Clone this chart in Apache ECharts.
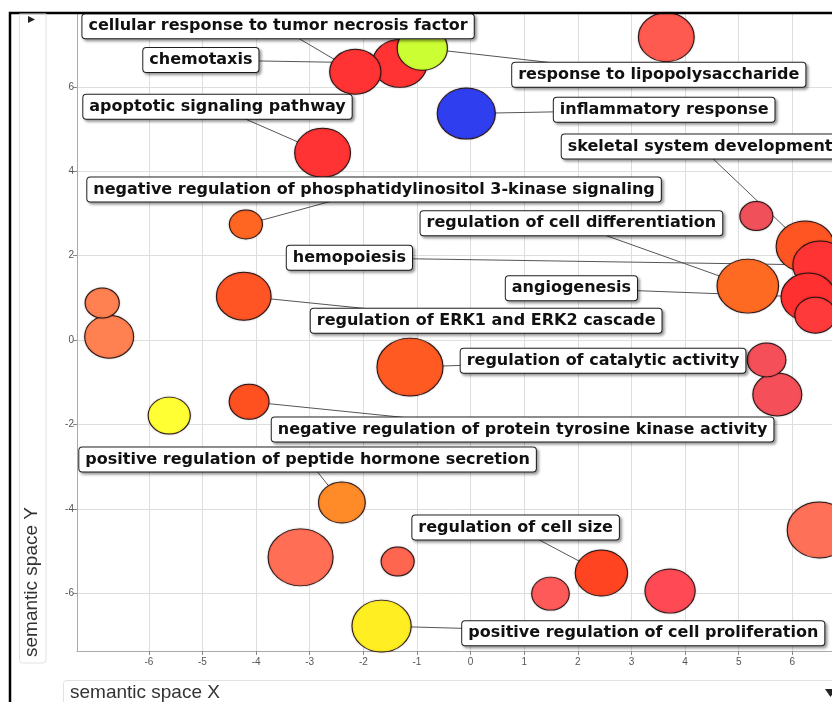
<!DOCTYPE html>
<html><head><meta charset="utf-8">
<script src="https://cdn.jsdelivr.net/npm/echarts@6/dist/echarts.min.js"></script>
<style>html,body{margin:0;padding:0;background:#fff}#c{width:832px;height:702px}</style>
</head><body><div id="c"></div>
<script>
// ---- data (semantic space coordinates of GO terms) ----
const termNames = [
  'cellular response to tumor necrosis factor','chemotaxis','response to lipopolysaccharide','inflammatory response','',
  'apoptotic signaling pathway','negative regulation of phosphatidylinositol 3-kinase signaling','','skeletal system development','hemopoiesis',
  'regulation of cell differentiation','angiogenesis','','','',
  '','','','regulation of ERK1 and ERK2 cascade','',
  'negative regulation of protein tyrosine kinase activity','regulation of catalytic activity','positive regulation of peptide hormone secretion','','',
  'positive regulation of cell proliferation','','regulation of cell size',''
];
const semX = [-2.15,-1.32,-0.90,-0.08,3.65,-2.76,-4.19,5.33,6.24,6.52,5.17,6.30,6.43,5.52,5.72,6.50,-6.87,-6.74,-4.23,-5.62,-4.13,-1.13,-2.40,-3.17,-1.36,-1.66,1.49,2.44,3.72];
const semY = [6.36,6.56,6.92,5.37,7.18,4.44,2.74,2.94,2.22,1.78,1.28,1.02,0.59,-0.47,-1.29,-4.50,0.88,0.08,1.04,-1.79,-1.46,-0.64,-3.85,-5.15,-5.25,-6.78,-6.01,-5.52,-5.95];
const logSize = [3.75,4.0,3.67,4.25,4.08,4.08,2.42,2.42,4.25,4.0,4.5,4.0,3.0,2.83,3.58,4.67,2.5,3.58,4.0,3.08,2.92,4.83,3.42,4.75,2.42,4.33,2.75,3.83,3.67];
const xTicks = [-6,-5,-4,-3,-2,-1,0,1,2,3,4,5,6];
const yTicks = [-6,-4,-2,0,2,4,6];

// ---- styles / layout (kept separate from data) ----
const bubbleColors = ['#ff3333','#ff3333','#ccff33','#2f3ff0','#ff5a50','#ff3333','#ff6622','#f0505a','#ff5522','#ff3333',
  '#ff6a22','#ff3030','#ff3a3a','#f5505a','#f5505a','#ff7058','#ff8050','#ff8050','#ff5525','#ffff33',
  '#ff5020','#ff5a22','#ff8a28','#ff6e55','#ff6650','#ffee22','#ff5a5a','#ff4422','#ff4a55'];
// label box centres, in data coordinates (null = no label)
const labelX = [-3.59,-5.03,3.51,3.61,null,-4.72,-1.80,null,4.28,-2.26,1.88,1.88,null,null,null,null,null,null,0.29,null,0.97,2.47,-3.04,null,null,3.22,null,0.84,null];
const labelY = [7.44,6.64,6.29,5.46,null,5.53,3.57,null,4.59,1.95,2.77,1.23,null,null,null,null,null,null,0.46,null,-2.12,-0.49,-2.83,null,null,-6.95,null,-4.44,null];

const PX_PER_SIZE = 12, ASPECT = 1.14;
const ellipse = 'path://M0,50A50,50,0,1,1,100,50A50,50,0,1,1,0,50Z';

const idx = termNames.map((_, i) => i);
const order = idx.slice().sort((a, b) => logSize[b] - logSize[a]);
const bubbleData = order.map(i => ({
  name: termNames[i],
  value: [semX[i], semY[i], logSize[i]],
  symbolSize: [logSize[i] * PX_PER_SIZE * ASPECT, logSize[i] * PX_PER_SIZE],
  itemStyle: { color: bubbleColors[i] }
}));
const labelled = idx.filter(i => labelX[i] !== null);
const lineData = labelled.map(i => ({ coords: [[labelX[i], labelY[i]], [semX[i], semY[i]]] }));
const labelData = labelled.map(i => ({ name: termNames[i], value: [labelX[i], labelY[i]] }));

const chart = echarts.init(document.getElementById('c'), null, { renderer: 'canvas' });
const axisCommon = {
  type: 'value',
  axisLine: { show: true, onZero: false, lineStyle: { color: '#aaa', width: 1 } },
  splitLine: { show: true, lineStyle: { color: '#dedede', width: 1 } },
};
chart.setOption({
  animation: false,
  backgroundColor: '#fff',
  grid: { left: 77, right: 0, top: 14, bottom: 51, containLabel: false },
  xAxis: Object.assign({}, axisCommon, {
    min: -7.34, max: 6.74,
    axisTick: { show: true, customValues: xTicks, length: 4, lineStyle: { color: '#888' } },
    axisLabel: { customValues: xTicks, fontSize: 10, color: '#555', margin: 6, fontFamily: 'Liberation Sans' }
  }),
  yAxis: Object.assign({}, axisCommon, {
    min: -7.37, max: 7.73,
    axisTick: { show: true, customValues: yTicks, length: 4, lineStyle: { color: '#888' } },
    axisLabel: { customValues: yTicks, fontSize: 10, color: '#555', margin: 3, fontFamily: 'Liberation Sans' }
  }),
  series: [
    {
      type: 'lines', coordinateSystem: 'cartesian2d', silent: true, z: 1,
      lineStyle: { color: '#555', width: 1, opacity: 1 },
      data: lineData
    },
    {
      type: 'scatter', z: 2, symbol: ellipse, clip: false,
      itemStyle: { opacity: 1, borderColor: '#2a1212', borderWidth: 1, shadowColor: 'rgba(0,0,0,0.25)', shadowBlur: 2 },
      emphasis: { disabled: true },
      data: bubbleData
    },
    {
      type: 'scatter', z: 3, symbolSize: 0, silent: true, clip: false,
      itemStyle: { opacity: 1 },
      label: {
        show: true, position: 'inside', formatter: '{b}', opacity: 1,
        fontFamily: 'DejaVu Sans', fontWeight: 'bold', fontSize: 16, color: '#111',
        backgroundColor: '#fff', borderColor: '#222', borderWidth: 1, borderRadius: 3,
        padding: [2, 6, 2, 6], lineHeight: 20,
        shadowColor: 'rgba(0,0,0,0.35)', shadowBlur: 3, shadowOffsetX: 2, shadowOffsetY: 2
      },
      emphasis: { disabled: true },
      data: labelData
    }
  ],
  graphic: [
    { type: 'rect', z: 100, silent: true, shape: { x: 10, y: 13, width: 900, height: 800 }, style: { fill: 'none', stroke: '#000', lineWidth: 2.5 } },
    { type: 'rect', z: 100, silent: true, shape: { x: 19.5, y: 14, width: 26.5, height: 649, r: [0, 0, 3, 3] }, style: { fill: 'none', stroke: '#e2e2e2', lineWidth: 1 } },
    { type: 'text', z: 100, silent: true, x: 32, y: 582, rotation: Math.PI / 2,
      style: { text: 'semantic space Y', font: '19px "Liberation Sans"', fill: '#333', align: 'center', verticalAlign: 'middle' } },
    { type: 'rect', z: 100, silent: true, shape: { x: 63.5, y: 680.5, width: 800, height: 40, r: 3 }, style: { fill: 'none', stroke: '#e2e2e2', lineWidth: 1 } },
    { type: 'text', z: 100, silent: true, x: 70, y: 693,
      style: { text: 'semantic space X', font: '19px "Liberation Sans"', fill: '#333', align: 'left', verticalAlign: 'middle' } },
    { type: 'polygon', z: 100, silent: true, shape: { points: [[28, 16], [35, 19.5], [28, 23]] }, style: { fill: '#222' } },
    { type: 'polygon', z: 100, silent: true, shape: { points: [[825, 689], [836, 689], [830.5, 697]] }, style: { fill: '#222' } }
  ]
});
</script></body></html>
